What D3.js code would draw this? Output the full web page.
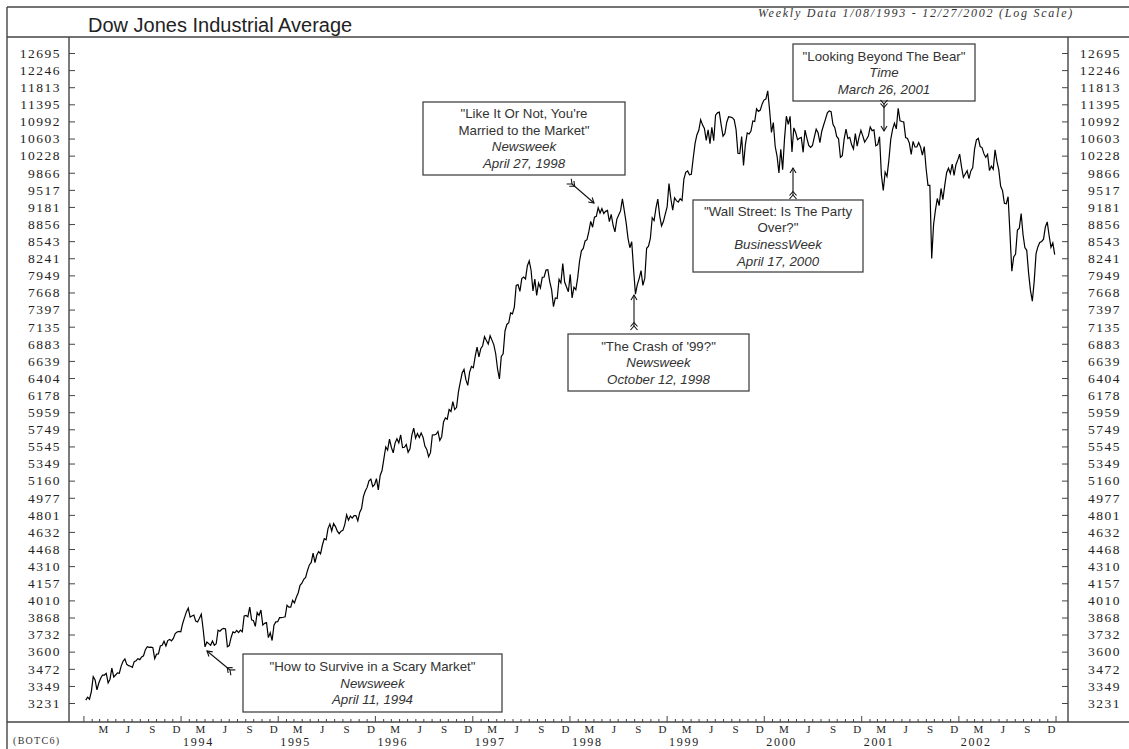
<!DOCTYPE html>
<html>
<head>
<meta charset="utf-8">
<script src="https://cdn.jsdelivr.net/npm/d3@7"></script>
<style>
  body { margin: 0; background: #fff; }
  svg { display: block; }
</style>
</head>
<body>
<div id="chart"></div>
<script>
// Weekly closes (Friday), one list per year
const firstFriday = ['1993-01-08', '1994-01-07', '1995-01-06', '1996-01-05', '1997-01-03',
                     '1998-01-02', '1999-01-01', '2000-01-07', '2001-01-05', '2002-01-04'];

const close1993 = [3251, 3271, 3257, 3310, 3416, 3392, 3322, 3370, 3404, 3427, 3427, 3439,
  3370, 3397, 3478, 3413, 3427, 3443, 3440, 3492, 3527, 3545, 3505, 3495, 3491,
  3483, 3525, 3532, 3547, 3540, 3560, 3569, 3615, 3638, 3633, 3634, 3630, 3548,
  3581, 3583, 3643, 3649, 3680, 3643, 3685, 3694, 3683, 3702, 3740, 3752, 3757, 3754];
const close1994 = [3820, 3867, 3914, 3945, 3871, 3880, 3888, 3839, 3832, 3862, 3895, 3774,
  3636, 3674, 3661, 3649, 3682, 3648, 3660, 3766, 3758, 3773, 3781, 3776, 3637,
  3646, 3709, 3753, 3746, 3765, 3747, 3767, 3754, 3881, 3885, 3874, 3953, 3849, 3843,
  3797, 3910, 3885, 3930, 3807, 3821, 3827, 3708, 3746, 3685, 3807, 3833, 3834];
const close1995 = [3867, 3867, 3870, 3874, 3970, 3954, 3954, 4011, 3989, 4036, 4073, 4139, 4158,
  4192, 4209, 4271, 4321, 4344, 4430, 4341, 4412, 4444, 4423, 4506, 4566, 4556,
  4664, 4709, 4641, 4715, 4684, 4640, 4615, 4639, 4647, 4704, 4801, 4748, 4789,
  4769, 4794, 4794, 4741, 4825, 4865, 4989, 5048, 5087, 5157, 5176, 5097, 5117];
const close1996 = [5182, 5061, 5217, 5271, 5405, 5540, 5503, 5630, 5536, 5470, 5584, 5636, 5587,
  5683, 5532, 5535, 5567, 5478, 5518, 5679, 5762, 5643, 5697, 5650, 5705, 5655,
  5550, 5510, 5427, 5473, 5680, 5681, 5689, 5723, 5616, 5660, 5838, 5888, 5872,
  5993, 5969, 6094, 5993, 6021, 6219, 6348, 6472, 6521, 6382, 6305, 6485, 6561];
const close1997 = [6544, 6703, 6833, 6696, 6813, 6855, 6988, 6931, 6878, 7000, 6936, 6867, 6740,
  6527, 6392, 6703, 6738, 7071, 7169, 7194, 7345, 7331, 7436, 7782, 7796, 7687,
  7896, 7922, 7891, 8113, 8194, 8031, 7694, 7887, 7622, 7822, 7742, 7917, 7922,
  8038, 8045, 7847, 7715, 7442, 7581, 7572, 7882, 7823, 8149, 7838, 7756, 7679];
const close1998 = [7965, 7580, 7753, 7712, 7907, 8189, 8370, 8413, 8546, 8570, 8719, 8907, 8797,
  8984, 9000, 9167, 9064, 9147, 9055, 9096, 9114, 8900, 9037, 8834, 8712, 8944,
  9025, 9105, 9337, 9116, 8883, 8598, 8425, 8533, 8052, 7640, 7795, 7895, 8028,
  7784, 7899, 8416, 8452, 8592, 8975, 8920, 9159, 9333, 9016, 8821, 8903, 9044];
const close1999 = [9181, 9643, 9340, 9120, 9358, 9304, 9274, 9340, 9307, 9736, 9876, 9903, 9822,
  9832, 10173, 10494, 10689, 10789, 11031, 10913, 10830, 10560, 10799, 10490, 10855, 10553,
  11139, 11193, 11209, 10911, 10655, 10715, 10973, 11100, 11090, 11079, 11028, 10803, 10279,
  10273, 10649, 10019, 10470, 10729, 10704, 10770, 11003, 10989, 11286, 11225, 11257, 11405, 11497];
const close2000 = [11523, 11723, 11252, 10739, 10964, 10426, 10220, 9862, 10367, 9929, 10595, 11113, 10922,
  11112, 10306, 10844, 10734, 10578, 10609, 10627, 10300, 10794, 10614, 10449, 10405, 10448,
  10636, 10812, 10733, 10511, 10767, 10909, 11046, 11192, 11238, 11220, 10927, 10847, 10651,
  10596, 10192, 10226, 10590, 10817, 10602, 10629, 10470, 10373, 10713, 10434, 10635, 10787];
const close2001 = [10662, 10525, 10587, 10659, 10864, 10781, 10799, 10441, 10466, 10644, 9823, 9504, 9879,
  9791, 10126, 10579, 10810, 10951, 10821, 11301, 11005, 10990, 10977, 10623, 10604, 10502,
  10252, 10539, 10416, 10417, 10512, 10416, 10240, 10423, 9949, 9606, 9606, 8236, 8848,
  9120, 9345, 9205, 9545, 9324, 9608, 9867, 9960, 9852, 10049, 9812, 10035, 10137];
const close2002 = [10259, 9988, 9772, 9840, 9908, 9745, 9904, 9968, 10369, 10572, 10608, 10427, 10404,
  10271, 10191, 10257, 9910, 10006, 9939, 10353, 10105, 9925, 9589, 9503, 9253, 9243,
  9380, 8684, 8019, 8264, 8313, 8745, 8778, 9054, 8664, 8428, 8380, 7987, 7701,
  7528, 7850, 8322, 8444, 8518, 8538, 8579, 8805, 8896, 8645, 8433, 8512, 8303];

const yearCloses = [close1993, close1994, close1995, close1996, close1997,
                    close1998, close1999, close2000, close2001, close2002];

// Y tick labels (log spaced)
const yTicks = [12695, 12246, 11813, 11395, 10992, 10603, 10228, 9866, 9517, 9181, 8856, 8543,
  8241, 7949, 7668, 7397, 7135, 6883, 6639, 6404, 6178, 5959, 5749, 5545, 5349, 5160,
  4977, 4801, 4632, 4468, 4310, 4157, 4010, 3868, 3732, 3600, 3472, 3349, 3231];

// Quarter letters and year labels on the time axis
const quarterMonths = [2, 5, 8, 11];
const quarterLetters = ['M', 'J', 'S', 'D'];
const yearLabels = [1994, 1995, 1996, 1997, 1998, 1999, 2000, 2001, 2002];

// Magazine cover callouts
const callouts = [
  { lines: ['"How to Survive in a Scary Market"', 'Newsweek', 'April 11, 1994'] },
  { lines: ['"Like It Or Not, You\'re', 'Married to the Market"', 'Newsweek', 'April 27, 1998'] },
  { lines: ['"The Crash of \'99?"', 'Newsweek', 'October 12, 1998'] },
  { lines: ['"Wall Street: Is The Party', 'Over?"', 'BusinessWeek', 'April 17, 2000'] },
  { lines: ['"Looking Beyond The Bear"', 'Time', 'March 26, 2001'] }
];

const parseDate = d3.timeParse('%Y-%m-%d');
const series = [];
yearCloses.forEach((vals, k) => {
  const start = parseDate(firstFriday[k]);
  vals.forEach((v, i) => series.push({ date: d3.timeDay.offset(start, 7 * i), value: v }));
});

const width = 1129, height = 749;
const plot = { left: 69, right: 1068, top: 37, bottom: 722 };

const svg = d3.select('#chart').append('svg')
  .attr('width', width)
  .attr('height', height);

const x = d3.scaleTime()
  .domain([new Date(1992, 10, 6), new Date(2003, 1, 15)])
  .range([plot.left, plot.right]);

const y = d3.scaleLog()
  .domain([3231, 12695])
  .range([703, 53]);

const frameColor = '#444';
const serif = '"Liberation Serif", "Times New Roman", serif';
const sans = '"Liberation Sans", Arial, sans-serif';

// Frame lines
const frame = svg.append('g').attr('stroke', frameColor).attr('stroke-width', 1.4);
frame.append('line').attr('x1', 7).attr('x2', width).attr('y1', 7).attr('y2', 7);
frame.append('line').attr('x1', 7).attr('x2', 7).attr('y1', 7).attr('y2', height);
frame.append('line').attr('x1', 7).attr('x2', width).attr('y1', plot.top).attr('y2', plot.top);
frame.append('line').attr('x1', 7).attr('x2', width).attr('y1', plot.bottom).attr('y2', plot.bottom);
frame.append('line').attr('x1', plot.left).attr('x2', plot.left).attr('y1', plot.top).attr('y2', plot.bottom);
frame.append('line').attr('x1', plot.right).attr('x2', plot.right).attr('y1', plot.top).attr('y2', plot.bottom);

// Titles
svg.append('text')
  .attr('x', 88).attr('y', 32)
  .style('font-family', sans)
  .style('font-size', '20px')
  .attr('fill', '#222')
  .text('Dow Jones Industrial Average');

svg.append('text')
  .attr('x', 1074).attr('y', 17)
  .attr('text-anchor', 'end')
  .style('font-family', serif)
  .style('font-style', 'italic')
  .style('font-size', '12px')
  .style('letter-spacing', '1.75px')
  .attr('fill', '#333')
  .text('Weekly Data 1/08/1993 - 12/27/2002 (Log Scale)');

// Y axes, ticks pointing into the plot
const leftAxis = d3.axisLeft(y).tickValues(yTicks).tickFormat(d3.format('d'))
  .tickSizeInner(-6).tickSizeOuter(0).tickPadding(8);
const rightAxis = d3.axisRight(y).tickValues(yTicks).tickFormat(d3.format('d'))
  .tickSizeInner(-6).tickSizeOuter(0).tickPadding(8);

const gl = svg.append('g').attr('transform', `translate(${plot.left},0)`).call(leftAxis);
const gr = svg.append('g').attr('transform', `translate(${plot.right},0)`).call(rightAxis);
[gl, gr].forEach(g => {
  g.select('.domain').remove();
  g.selectAll('.tick line').attr('stroke', frameColor);
  g.selectAll('.tick text')
    .style('font-family', serif)
    .style('font-size', '13.5px')
    .style('letter-spacing', '1.5px')
    .attr('fill', '#222');
});
gr.selectAll('.tick text').attr('text-anchor', 'end').attr('x', 53);

// X axis: monthly ticks, taller at each year start
const months = d3.timeMonth.range(new Date(1993, 0, 1), new Date(2003, 1, 1));
svg.append('g').selectAll('line')
  .data(months)
  .join('line')
  .attr('x1', d => x(d)).attr('x2', d => x(d))
  .attr('y1', plot.bottom)
  .attr('y2', d => d.getMonth() === 0 ? plot.bottom - 6 : plot.bottom - 3)
  .attr('stroke', frameColor);

const quarterDates = [];
d3.range(1993, 2003).forEach(yr => quarterMonths.forEach((m, i) =>
  quarterDates.push({ date: new Date(yr, m, 15), letter: quarterLetters[i] })));

svg.append('g').selectAll('text')
  .data(quarterDates)
  .join('text')
  .attr('x', d => x(d.date))
  .attr('y', 733)
  .attr('text-anchor', 'middle')
  .style('font-family', serif)
  .style('font-size', '11px')
  .attr('fill', '#222')
  .text(d => d.letter);

svg.append('g').selectAll('text')
  .data(yearLabels)
  .join('text')
  .attr('x', d => x(new Date(d, 0, 1)) + 2)
  .attr('y', 745.5)
  .style('font-family', serif)
  .style('font-size', '12px')
  .style('letter-spacing', '1.7px')
  .attr('fill', '#222')
  .text(d => d);

svg.append('text')
  .attr('x', 13).attr('y', 744)
  .style('font-family', serif)
  .style('font-size', '10px')
  .style('letter-spacing', '1.3px')
  .attr('fill', '#333')
  .text('(BOTC6)');

// Price line
svg.append('path')
  .datum(series)
  .attr('fill', 'none')
  .attr('stroke', '#000')
  .attr('stroke-width', 1.2)
  .attr('d', d3.line().x(d => x(d.date)).y(d => y(d.value)));

// Callout boxes (layout in pixels) and arrows (tip <- tail)
const boxes = [
  { x: 243, y: 654, w: 259, h: 58, tip: [207, 651], tail: [230, 670] },
  { x: 423, y: 102, w: 202, h: 73, tip: [594, 203], tail: [572, 184] },
  { x: 568, y: 334, w: 181, h: 57, tip: [634, 295], tail: [634, 326] },
  { x: 693, y: 200, w: 170, h: 72, tip: [793, 168], tail: [793, 195] },
  { x: 793, y: 44, w: 182, h: 57, tip: [884, 131], tail: [884, 104] }
];

callouts.forEach((c, i) => {
  const b = boxes[i];
  const g = svg.append('g');
  g.append('rect')
    .attr('x', b.x).attr('y', b.y).attr('width', b.w).attr('height', b.h)
    .attr('fill', '#fff').attr('stroke', '#444').attr('stroke-width', 1.3);
  const n = c.lines.length;
  const lh = 16.6;
  const y0 = b.y + b.h / 2 - (n - 1) * lh / 2 + 4.6;
  c.lines.forEach((t, j) => {
    g.append('text')
      .attr('x', b.x + b.w / 2)
      .attr('y', y0 + j * lh)
      .attr('text-anchor', 'middle')
      .style('font-family', sans)
      .style('font-size', '13.3px')
      .style('font-style', j >= n - 2 ? 'italic' : 'normal')
      .attr('fill', '#333')
      .text(t);
  });

  // arrow: shaft, open head at the tip, double fletching at the tail
  const [tx, ty] = b.tip, [sx, sy] = b.tail;
  const ang = Math.atan2(ty - sy, tx - sx);
  const ux = Math.cos(ang), uy = Math.sin(ang);
  const px = -uy, py = ux;
  const a = svg.append('g').attr('stroke', '#111').attr('stroke-width', 1.1).attr('fill', 'none');
  a.append('line').attr('x1', sx).attr('y1', sy).attr('x2', tx).attr('y2', ty);
  const hl = 5, hw = 3;
  a.append('path').attr('d',
    `M${tx - ux * hl + px * hw},${ty - uy * hl + py * hw}L${tx},${ty}L${tx - ux * hl - px * hw},${ty - uy * hl - py * hw}`);
  [0, 3.5].forEach(o => {
    const cx = sx + ux * o, cy = sy + uy * o;
    a.append('path').attr('d',
      `M${cx - ux * 4 + px * 3.5},${cy - uy * 4 + py * 3.5}L${cx},${cy}L${cx - ux * 4 - px * 3.5},${cy - uy * 4 - py * 3.5}`);
  });
});
</script>
</body>
</html>
